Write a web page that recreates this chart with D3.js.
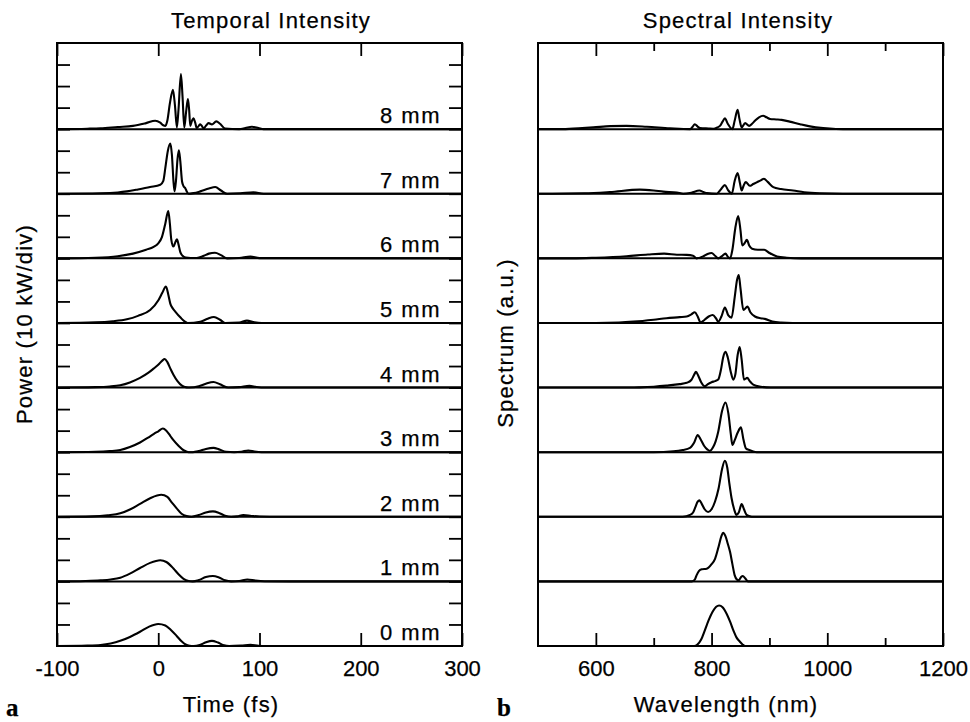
<!DOCTYPE html>
<html>
<head>
<meta charset="utf-8">
<script src="https://cdn.jsdelivr.net/npm/d3@7"></script>
<style>
  html, body { margin: 0; padding: 0; background: #fff; }
  svg { display: block; }
  text { font-family: "Liberation Sans", Arial, Helvetica, sans-serif; fill: #000; stroke: #000; stroke-width: 0.25px; }
</style>
</head>
<body>
<svg id="chart" width="970" height="722"></svg>
<script>
// ---------------- DATA ----------------
const distances = ["0 mm", "1 mm", "2 mm", "3 mm", "4 mm", "5 mm", "6 mm", "7 mm", "8 mm"];
const timeTicks = [-100, 0, 100, 200, 300];
const wavelengthTicks = [600, 800, 1000, 1200];
const wavelengthMinorTicks = [700, 900, 1100];
const titles = ["Temporal Intensity", "Spectral Intensity"];

// temporal power, [time (fs), power (10 kW/div)]
const temporal0 = [[-100,0],[-70,0.02],[-57,0.05],[-47,0.12],[-37.5,0.24],[-28,0.42],[-18,0.66],[-9,0.9],[0,1.02],[7,0.95],[13,0.72],[18,0.48],[23,0.22],[27,0.07],[31,0.01],[35,0],[41,0.05],[47,0.17],[53,0.24],[59,0.16],[65,0.03],[70,0],[82,0.02],[91,0.05],[99,0.01],[106,0],[300,0]];
const temporal1 = [[-100,0],[-72,0.02],[-57,0.05],[-47,0.09],[-37.5,0.17],[-28,0.36],[-18,0.62],[-8,0.86],[2,0.98],[8,0.9],[15,0.6],[20,0.33],[25,0.12],[30,0.02],[34,0],[40,0.06],[47,0.2],[54,0.25],[60,0.18],[66,0.05],[72,0],[80,0.02],[88,0.09],[96,0.04],[105,0.01],[130,0],[300,0]];
const temporal2 = [[-100,0],[-65,0.02],[-50,0.07],[-37.5,0.16],[-28,0.34],[-18,0.6],[-8,0.86],[3,1.02],[9,0.92],[13.5,0.66],[18,0.4],[23,0.14],[28,0.03],[33,0],[40,0.08],[47,0.2],[54,0.25],[60,0.18],[66,0.05],[72,0],[78,0.02],[84,0.08],[92,0.04],[100,0.01],[120,0],[300,0]];
const temporal3 = [[-100,0],[-62,0.02],[-48,0.05],[-37.5,0.1],[-28,0.24],[-18,0.45],[-10,0.68],[-4.6,0.84],[0,0.97],[4.6,1.1],[8,1.0],[12,0.75],[15,0.56],[20,0.3],[25,0.09],[30,0],[34,0],[40,0.05],[47,0.15],[54.6,0.2],[60,0.13],[67,0.02],[75,0],[82,0.02],[89,0.08],[95,0.03],[102,0],[300,0]];
const temporal4 = [[-100,0],[-62,0.02],[-48,0.05],[-37.5,0.11],[-28,0.24],[-18,0.45],[-10,0.68],[-4.6,0.88],[0,1.06],[4,1.25],[6.3,1.33],[9,1.18],[12,0.88],[15,0.6],[19,0.3],[23.4,0.09],[28,0.01],[31,0],[40,0.06],[47,0.18],[54.6,0.26],[61,0.15],[69,0],[80,0.02],[90,0.08],[97,0.03],[105,0],[300,0]];
const temporal5 = [[-100,0],[-62,0.03],[-45,0.08],[-31,0.17],[-20,0.33],[-8,0.6],[0.3,1.07],[4,1.4],[7.6,1.69],[10,1.3],[11.9,0.9],[14,0.7],[16.8,0.53],[22,0.25],[26,0.07],[29,0],[41.5,0.06],[48,0.18],[55,0.28],[61,0.15],[66,0],[80,0.02],[87.6,0.11],[95,0.03],[102,0],[300,0]];
const temporal6 = [[-100,0],[-62,0.03],[-40,0.1],[-25,0.22],[-12,0.4],[-4.6,0.53],[0,0.7],[3.6,0.99],[6.9,1.6],[9.9,2.2],[11.5,1.6],[12.8,0.9],[15,0.55],[16.5,0.7],[18.4,0.88],[20,0.65],[21.7,0.3],[24,0.12],[27,0.04],[32,0.02],[38,0.02],[45,0.12],[50,0.22],[56,0.26],[62,0.15],[68,0],[80,0.02],[91,0.08],[100,0.01],[300,0]];
const temporal7 = [[-100,0],[-57,0.02],[-40,0.06],[-31,0.11],[-20,0.2],[-8,0.31],[2,0.42],[5,0.6],[7,1.2],[9.5,2.0],[11.9,2.33],[13.5,1.8],[15,0.6],[16.1,0.11],[17.5,0.6],[19,1.6],[20.4,2.02],[21.8,1.5],[23.5,0.57],[25,0.35],[26.7,0.26],[28,0.12],[30,0],[35,0.03],[41.5,0.11],[50,0.24],[56.3,0.31],[62,0.15],[68,0],[81,0.02],[94,0.07],[104,0],[300,0]];
const temporal8 = [[-100,0],[-70,0.02],[-57,0.04],[-40,0.1],[-25,0.15],[-12,0.28],[-3,0.39],[2,0.3],[5,0.18],[7,0.15],[9,0.4],[11.5,1.2],[14.5,1.83],[16.5,1.1],[18.4,0.08],[20,0.9],[22.4,2.56],[24,1.5],[25.7,0.08],[27.5,0.8],[29.3,1.4],[30.5,0.9],[31.6,0.15],[33,0.35],[34.9,0.5],[36.5,0.3],[38,0.05],[40,0.15],[41.5,0.23],[43,0.15],[44.8,0.03],[47,0.15],[49.7,0.28],[53,0.22],[57.3,0.36],[61,0.25],[66,0.03],[80,0],[86,0.05],[92.5,0.11],[99,0.05],[104,0],[300,0]];
const temporalSeries = [temporal0, temporal1, temporal2, temporal3, temporal4, temporal5, temporal6, temporal7, temporal8];

// spectral intensity, [wavelength (nm), spectrum (a.u.)]
const spectral0 = [[500,0],[770,0],[775,0.05],[782,0.3],[788.5,0.74],[795,1.2],[802,1.6],[808,1.82],[813,1.88],[819,1.8],[826,1.5],[832,1.13],[838,0.7],[843,0.4],[849,0.2],[854,0.06],[858,0],[1200,0]];
const spectral1 = [[500,0],[766,0],[771,0.08],[774,0.28],[778,0.48],[783,0.56],[791.5,0.59],[800,0.8],[806,1.05],[812,1.6],[817,2.1],[820,2.26],[824,2.1],[828,1.75],[832,1.36],[836,0.8],[840,0.28],[844,0.08],[847,0.05],[851,0.2],[854,0.25],[858,0.15],[863,0],[1200,0]];
const spectral2 = [[500,0],[750,0],[762.7,0.09],[768,0.2],[772,0.45],[776,0.7],[779,0.76],[783,0.6],[788,0.35],[794,0.22],[800,0.35],[806,0.71],[812,1.3],[818,2.2],[823,2.6],[827,2.3],[831,1.5],[834.5,0.87],[839,0.35],[843,0.09],[847,0.2],[852,0.59],[856,0.35],[860.5,0.09],[866,0.03],[872,0],[1200,0]];
const spectral3 = [[500,0],[700,0],[734,0.04],[750,0.1],[762.7,0.2],[770,0.45],[776,0.79],[781,0.6],[787,0.3],[793,0.12],[797,0.06],[803,0.25],[807,0.5],[811.5,0.95],[818,1.9],[824,2.31],[829,1.8],[833,0.9],[836,0.33],[840,0.56],[845,0.9],[850.8,1.15],[855,0.6],[859.5,0.17],[866,0.09],[872,0.03],[878,0],[1200,0]];
const spectral4 = [[500,0],[660,0],[676,0.01],[700,0.04],[722,0.09],[745,0.16],[757,0.22],[765,0.35],[770,0.6],[773,0.73],[777,0.55],[782,0.25],[788.5,0.06],[793,0.15],[800,0.25],[806,0.3],[811.5,0.37],[816,0.8],[820,1.4],[824,1.66],[828,1.4],[833,0.75],[837.5,0.37],[841,0.6],[845,1.5],[848.5,1.88],[852,1.3],[856,0.37],[861.7,0.45],[866,0.3],[872,0.14],[885,0.04],[895,0.01],[910,0],[1200,0]];
const spectral5 = [[500,0],[600,0],[640,0.02],[665,0.06],[700,0.15],[722,0.22],[745,0.27],[757,0.3],[765,0.4],[771,0.5],[776,0.3],[781,0.02],[788,0.15],[795,0.3],[802,0.37],[808,0.2],[811.5,0.06],[817,0.3],[823,0.72],[829,0.35],[834.5,0.25],[840,1.2],[844,2.0],[847,2.23],[850,1.6],[855,0.6],[862,0.76],[867,0.5],[875,0.3],[885,0.22],[892,0.19],[905,0.07],[920,0.02],[940,0],[1200,0]];
const spectral6 = [[500,0],[560,0],[600,0.03],[653,0.1],[690,0.18],[718,0.22],[740,0.17],[757,0.16],[768,0.12],[774,0],[786,0.1],[793,0.2],[800,0.25],[806,0.12],[811.5,0],[818,0.1],[824,0.22],[828,0.08],[832,0],[836,0.4],[841,1.4],[846,1.97],[850,1.3],[853,0.6],[857,0.7],[861,0.86],[865,0.6],[870,0.45],[880,0.4],[891,0.4],[900,0.25],[913,0.09],[930,0.03],[955,0],[1200,0]];
const spectral7 = [[500,0],[580,0.02],[624,0.08],[676,0.19],[700,0.15],[716.5,0.1],[740,0.06],[751,0],[765,0.05],[779,0.15],[786,0.08],[792,0.03],[809,0],[816,0.2],[823,0.4],[829,0.15],[835,0],[840,0.6],[845,0.96],[849,0.5],[852,0.15],[855,0.35],[859,0.54],[866,0.37],[872,0.45],[878,0.53],[885,0.62],[890.5,0.7],[897,0.55],[906.7,0.31],[920,0.22],[941,0.15],[960,0.07],[987,0.02],[1027,0],[1200,0]];
const spectral8 = [[500,0],[538,0],[570,0.04],[595.6,0.08],[625,0.14],[653,0.15],[688,0.11],[728,0.04],[763,0],[767,0.1],[771,0.23],[776,0.12],[780,0.05],[795,0.03],[803,0.02],[810,0.08],[814.5,0.15],[819,0.35],[823,0.5],[828,0.25],[836,0],[840,0.4],[845,0.9],[848,0.5],[852,0.08],[858,0.28],[865,0.15],[870,0.25],[875,0.39],[882,0.55],[889,0.62],[895,0.55],[901,0.47],[912,0.45],[921,0.43],[935,0.35],[953,0.23],[970,0.13],[993,0.05],[1015,0.01],[1039,0],[1200,0]];
const spectralSeries = [spectral0, spectral1, spectral2, spectral3, spectral4, spectral5, spectral6, spectral7, spectral8];

// ---------------- LAYOUT ----------------
const svg = d3.select("#chart");
const offsetStep = 3;          // vertical offset between traces (divisions)
const yMax = 28;               // total divisions in each panel
const plotTop = 43, plotBottom = 646;
const panelsX = [{x0: 57, x1: 462}, {x0: 538, x1: 943}];

const y = d3.scaleLinear().domain([0, yMax]).range([plotBottom, plotTop]);
const xTime = d3.scaleLinear().domain([timeTicks[0], timeTicks[timeTicks.length - 1]]).range([panelsX[0].x0, panelsX[0].x1]);
const xWave = d3.scaleLinear().domain([500, wavelengthTicks[wavelengthTicks.length - 1]]).range([panelsX[1].x0, panelsX[1].x1]);

const defs = svg.append("defs");
panelsX.forEach((p, i) => {
  defs.append("clipPath").attr("id", "clip" + i)
    .append("rect").attr("x", p.x0).attr("y", plotTop).attr("width", p.x1 - p.x0).attr("height", plotBottom - plotTop);
});

function drawPanel(idx, xScale, series, opts) {
  const p = panelsX[idx];
  const g = svg.append("g");

  // divider lines (baselines)
  g.selectAll("line.div").data(distances).join("line")
    .attr("x1", p.x0).attr("x2", p.x1)
    .attr("y1", (d, i) => y(i * offsetStep)).attr("y2", (d, i) => y(i * offsetStep))
    .attr("stroke", "#000").attr("stroke-width", 2);

  // traces
  const line = d3.line().curve(d3.curveMonotoneX);
  g.append("g").attr("clip-path", `url(#clip${idx})`)
    .selectAll("path").data(series).join("path")
    .attr("d", (s, i) => line(s.map(([a, b]) => [xScale(a), y(b + i * offsetStep)])))
    .attr("fill", "none").attr("stroke", "#000").attr("stroke-width", 2.1)
    .attr("stroke-linejoin", "round");

  // axes (inward ticks)
  const styleAxis = sel => {
    sel.select(".domain").remove();
    sel.selectAll(".tick line").attr("stroke", "#000").attr("stroke-width", 1.8);
    sel.selectAll("text").style("font-size", "22px").style("font-family", '"Liberation Sans", Arial, sans-serif');
  };
  const majorTicks = opts.majorTicks;
  g.append("g").attr("transform", `translate(0,${plotBottom})`)
    .call(d3.axisBottom(xScale).tickValues(majorTicks).tickSize(-13).tickSizeOuter(0).tickPadding(14).tickFormat(d => String(d)))
    .call(styleAxis);
  g.append("g").attr("transform", `translate(0,${plotTop})`)
    .call(d3.axisTop(xScale).tickValues(majorTicks).tickSize(-13).tickSizeOuter(0).tickFormat(""))
    .call(styleAxis);
  if (opts.minorTicks) {
    g.append("g").attr("transform", `translate(0,${plotBottom})`)
      .call(d3.axisBottom(xScale).tickValues(opts.minorTicks).tickSize(-8).tickSizeOuter(0).tickFormat(""))
      .call(styleAxis);
    g.append("g").attr("transform", `translate(0,${plotTop})`)
      .call(d3.axisTop(xScale).tickValues(opts.minorTicks).tickSize(-8).tickSizeOuter(0).tickFormat(""))
      .call(styleAxis);
  }
  if (opts.yTicks) {
    const yt = d3.range(1, yMax);
    g.append("g").attr("transform", `translate(${p.x0},0)`)
      .call(d3.axisLeft(y).tickValues(yt).tickSize(-13).tickSizeOuter(0).tickFormat(""))
      .call(styleAxis);
    g.append("g").attr("transform", `translate(${p.x1},0)`)
      .call(d3.axisRight(y).tickValues(yt).tickSize(-13).tickSizeOuter(0).tickFormat(""))
      .call(styleAxis);
  }

  // frame
  g.append("rect").attr("x", p.x0).attr("y", plotTop).attr("width", p.x1 - p.x0).attr("height", plotBottom - plotTop)
    .attr("fill", "none").attr("stroke", "#000").attr("stroke-width", 2);

  // title
  g.append("text").attr("x", opts.titleX).attr("y", 28).attr("text-anchor", "middle")
    .style("font-size", "22px").style("letter-spacing", "1.2px").text(opts.title);
  // x label
  g.append("text").attr("x", opts.xLabelX).attr("y", 712).attr("text-anchor", "middle")
    .style("font-size", "22px").style("letter-spacing", "1.2px").text(opts.xLabel);
  // y label
  g.append("text").attr("transform", `translate(${opts.yLabelX},${opts.yLabelY}) rotate(-90)`)
    .attr("text-anchor", "middle").style("font-size", "22px").style("letter-spacing", "1.2px").text(opts.yLabel);
  // panel letter
  g.append("text").attr("x", opts.letterX).attr("y", 716)
    .style("font-family", '"Liberation Serif", "Times New Roman", serif').style("font-weight", "bold")
    .style("font-size", "25px").text(opts.letter);
  return g;
}

const gLeft = drawPanel(0, xTime, temporalSeries, {
  majorTicks: timeTicks, yTicks: true,
  title: titles[0], titleX: 271,
  xLabel: "Time (fs)", xLabelX: 231,
  yLabel: "Power (10 kW/div)", yLabelX: 32, yLabelY: 324,
  letter: "a", letterX: 6
});
drawPanel(1, xWave, spectralSeries, {
  majorTicks: wavelengthTicks, minorTicks: wavelengthMinorTicks, yTicks: false,
  title: titles[1], titleX: 738,
  xLabel: "Wavelength (nm)", xLabelX: 726,
  yLabel: "Spectrum (a.u.)", yLabelX: 513, yLabelY: 343,
  letter: "b", letterX: 497
});

// distance labels in the temporal panel
gLeft.selectAll("text.dist").data(distances).join("text")
  .attr("class", "dist")
  .attr("x", 441).attr("y", (d, i) => y(i * offsetStep) - 6)
  .attr("text-anchor", "end").style("font-size", "22px").style("letter-spacing", "1.5px")
  .text(d => d);
</script>
</body>
</html>
